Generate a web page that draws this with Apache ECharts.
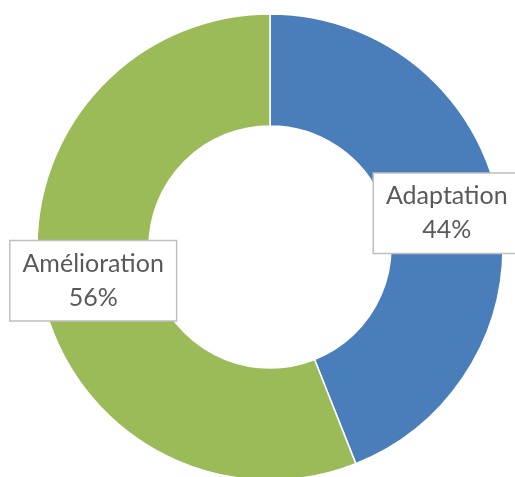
<!DOCTYPE html>
<html>
<head>
<meta charset="utf-8">
<script src="https://cdn.jsdelivr.net/npm/echarts@6/dist/echarts.min.js"></script>
<style>
html,body{margin:0;padding:0;background:#fff;}
#chart{width:515px;height:477px;}
</style>
</head>
<body>
<div id="chart"></div>
<script>
const categories = ['Adaptation', 'Amélioration'];
const values = [44, 56];
const colors = ['#4A7EBB', '#9BBB59'];

const chart = echarts.init(document.getElementById('chart'), null, {renderer: 'canvas'});
chart.setOption({
  backgroundColor: '#ffffff',
  animation: false,
  series: [{
    type: 'pie',
    center: [270, 247],
    radius: [121, 233],
    startAngle: 90,
    clockwise: true,
    avoidLabelOverlap: false,
    itemStyle: {borderColor: '#ffffff', borderWidth: 1.5},
    label: {
      show: true,
      position: 'inside',
      formatter: '{b}\n{d}%',
      fontFamily: 'Lato',
      fontSize: 25,
      lineHeight: 34,
      color: '#595959',
      backgroundColor: '#ffffff',
      borderColor: '#bfbfbf',
      borderWidth: 1.5,
      padding: [6, 12, 5, 12],
      align: 'center'
    },
    labelLine: {show: false},
    emphasis: {disabled: true},
    data: categories.map((c, i) => ({name: c, value: values[i], itemStyle: {color: colors[i]}}))
  }]
});
</script>
</body>
</html>
